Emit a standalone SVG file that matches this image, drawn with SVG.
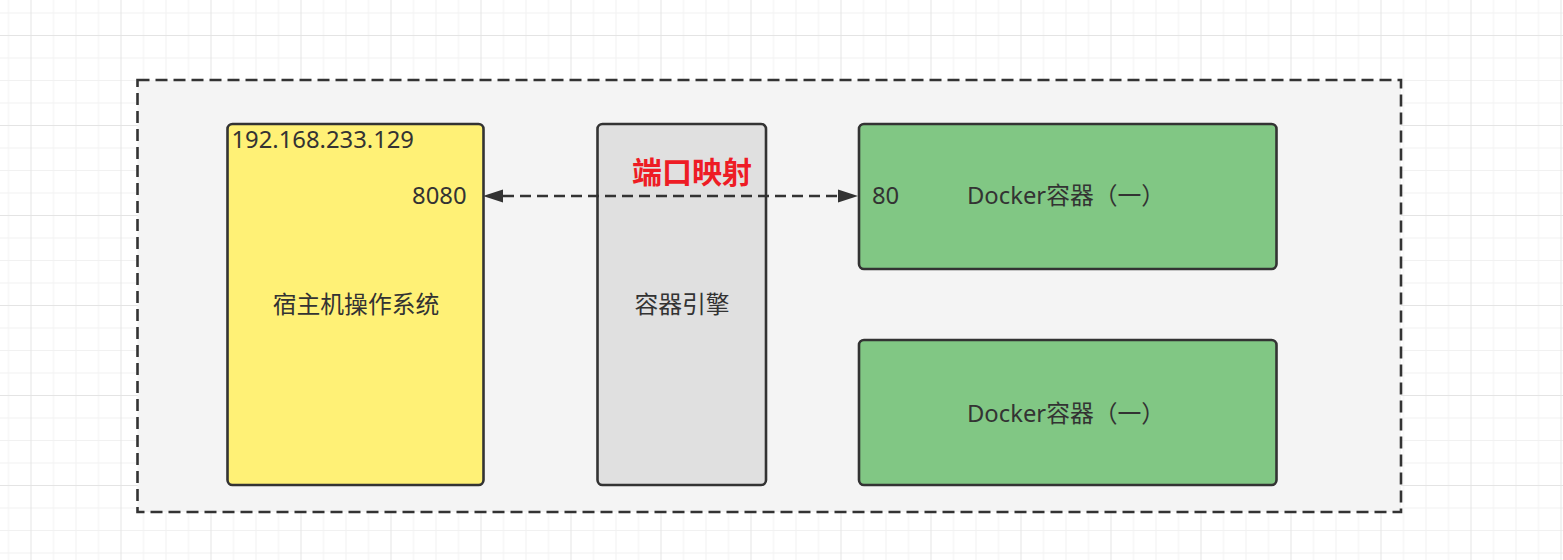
<svg xmlns="http://www.w3.org/2000/svg" width="1563" height="560" viewBox="0 0 1563 560">
  <style>
    .box { stroke: #333333; stroke-width: 2.6; }
    .lbl { font-family: "Noto Sans", "Noto Sans CJK SC", sans-serif; font-size: 23.8px; fill: #333333; }
    .mid { text-anchor: middle; }
    .conn { stroke: #333333; stroke-width: 2.6; stroke-dasharray: 11 6; fill: none; }
  </style>
  <defs>
    <pattern id="grid" patternUnits="userSpaceOnUse" x="30.5" y="35" width="90" height="90">
      <g stroke="#f1f1f1" stroke-width="1">
        <line x1="23" y1="0" x2="23" y2="90"/>
        <line x1="45.5" y1="0" x2="45.5" y2="90"/>
        <line x1="68" y1="0" x2="68" y2="90"/>
        <line x1="0" y1="23" x2="90" y2="23"/>
        <line x1="0" y1="45.5" x2="90" y2="45.5"/>
        <line x1="0" y1="68" x2="90" y2="68"/>
      </g>
      <g stroke="#e4e4e4" stroke-width="1">
        <line x1="0.5" y1="0" x2="0.5" y2="90"/>
        <line x1="0" y1="0.5" x2="90" y2="0.5"/>
      </g>
    </pattern>
    <marker id="arrow" markerUnits="userSpaceOnUse" markerWidth="20" markerHeight="14" refX="0" refY="6.5" orient="auto-start-reverse" viewBox="0 0 20 13">
      <path d="M0,0 L20,6.5 L0,13 Z" fill="#333333"/>
    </marker>
  </defs>

  <rect x="0" y="0" width="1563" height="560" fill="#ffffff"/>
  <rect x="0" y="0" width="1563" height="560" fill="url(#grid)"/>

  <g id="container">
    <rect x="137.5" y="80" width="1263.5" height="432" fill="#f4f4f4" stroke="#333333" stroke-width="2.6" stroke-dasharray="12 6"/>
  </g>

  <g id="host">
    <rect class="box" x="227.5" y="124" width="256" height="361" rx="5" ry="5" fill="#fff176"/>
    <text class="lbl" x="231.5" y="148.3">192.168.233.129</text>
    <text class="lbl" x="466.5" y="204" text-anchor="end">8080</text>
    <text class="lbl mid" x="356" y="313">宿主机操作系统</text>
  </g>

  <g id="engine">
    <rect class="box" x="597.5" y="124" width="168.5" height="361" rx="5" ry="5" fill="#e0e0e0"/>
    <text class="lbl mid" x="682" y="313">容器引擎</text>
  </g>

  <g id="docker1">
    <rect class="box" x="859" y="124" width="417.5" height="145" rx="5" ry="5" fill="#81c784"/>
    <text class="lbl" x="872" y="204.3">80</text>
    <text class="lbl" x="967" y="204.3">Docker容器（一）</text>
  </g>

  <g id="docker2">
    <rect class="box" x="859" y="340" width="417.5" height="145" rx="5" ry="5" fill="#81c784"/>
    <text class="lbl" x="967" y="421.7">Docker容器（一）</text>
  </g>

  <g id="connectors">
    <line class="conn" x1="503" y1="196" x2="838" y2="196" marker-start="url(#arrow)" marker-end="url(#arrow)"/>
  </g>

  <g id="mapping-label">
    <text x="692" y="183" text-anchor="middle" font-family="Noto Sans CJK SC, sans-serif" font-size="30" font-weight="bold" fill="#ee1c25">端口映射</text>
  </g>
</svg>
